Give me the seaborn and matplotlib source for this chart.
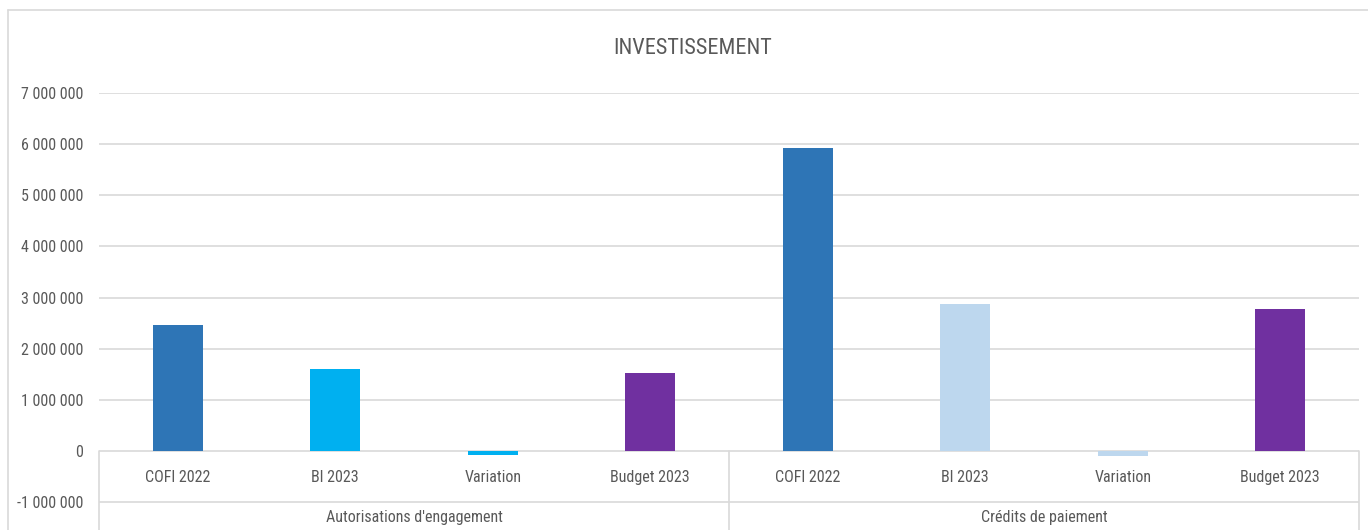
import matplotlib
matplotlib.use("Agg")
import matplotlib.pyplot as plt
from matplotlib.lines import Line2D
from matplotlib import font_manager
import seaborn as sns
import pandas as pd

# Chart data
groups = ["Autorisations d'engagement", "Crédits de paiement"]
categories = ["COFI 2022", "BI 2023", "Variation", "Budget 2023"]
ae_values = [2_460_000, 1_600_000, -70_000, 1_530_000]
cp_values = [5_925_000, 2_880_000, -100_000, 2_780_000]
ae_colors = ["#2E75B6", "#00B0F0", "#00B0F0", "#7030A0"]
cp_colors = ["#2E75B6", "#BDD7EE", "#BDD7EE", "#7030A0"]
y_ticks = [-1_000_000, 0, 1_000_000, 2_000_000, 3_000_000,
           4_000_000, 5_000_000, 6_000_000, 7_000_000]
title = "INVESTISSEMENT"

sns.set_theme(style="white")
installed = {f.name for f in font_manager.fontManager.ttflist}
narrow = [n for n in ("Liberation Sans Narrow", "Roboto Condensed", "Open Sans Condensed")
          if n in installed]
plt.rcParams["font.family"] = narrow + ["Lato", "DejaVu Sans"]
base = 11.5 if narrow else 10.5
TEXT = "#595959"
GRID = "#D9D9D9"

rows = []
palette = {}
for g, vals, cols in ((groups[0], ae_values, ae_colors), (groups[1], cp_values, cp_colors)):
    for c, v, col in zip(categories, vals, cols):
        key = f"{g}|{c}"
        rows.append({"key": key, "group": g, "category": c, "value": v})
        palette[key] = col
df = pd.DataFrame(rows)
order = list(df["key"])

W, H = 1368, 530
fig = plt.figure(figsize=(W / 100, H / 100), dpi=100)
fig.patch.set_facecolor("white")

# plot area: 7M gridline at y=93 px, bottom of figure at 530 px
ax = fig.add_axes([99 / W, 0, 1260 / W, (H - 93) / H])
sns.barplot(data=df, x="key", y="value", hue="key", order=order, hue_order=order,
            palette=palette, width=0.32, legend=False, saturation=1,
            linewidth=0, ax=ax)

ax.set_xlim(-0.5, 7.5)
ax.set_ylim(-1_545_000, 7_000_000)
ax.set_yticks(y_ticks)
ax.set_yticklabels([f"{v:,}".replace(",", " ") for v in y_ticks],
                   color=TEXT, fontsize=base)
ax.tick_params(axis="y", length=0, pad=11.5)
ax.set_xticks([])
ax.set_xlabel("")
ax.set_ylabel("")
for s in ax.spines.values():
    s.set_visible(False)
ax.yaxis.grid(True, color=GRID, linewidth=1.2)
ax.set_axisbelow(True)

# multi-level category axis: boxes and labels
for x in (-0.5, 3.5, 7.5):
    ax.plot([x, x], [0, -1_545_000], color=GRID, lw=1.2, clip_on=False, zorder=1)
for i, c in enumerate(categories * 2):
    ax.text(i, -520_000, c, ha="center", va="center", color=TEXT, fontsize=base)
for j, g in enumerate(groups):
    ax.text(1.5 + 4 * j, -1_300_000, g, ha="center", va="center", color=TEXT, fontsize=base)

# chart frame
fig.add_artist(Line2D([8 / W, 1], [1 - 10 / H, 1 - 10 / H], color=GRID, lw=1.2))
fig.add_artist(Line2D([8 / W, 8 / W], [0, 1 - 10 / H], color=GRID, lw=1.2))

fig.text(693 / W, 1 - 48 / H, title, ha="center", va="center", color=TEXT,
         fontsize=16 if narrow else 15)

fig.savefig("out.png", dpi=100, facecolor="white")
